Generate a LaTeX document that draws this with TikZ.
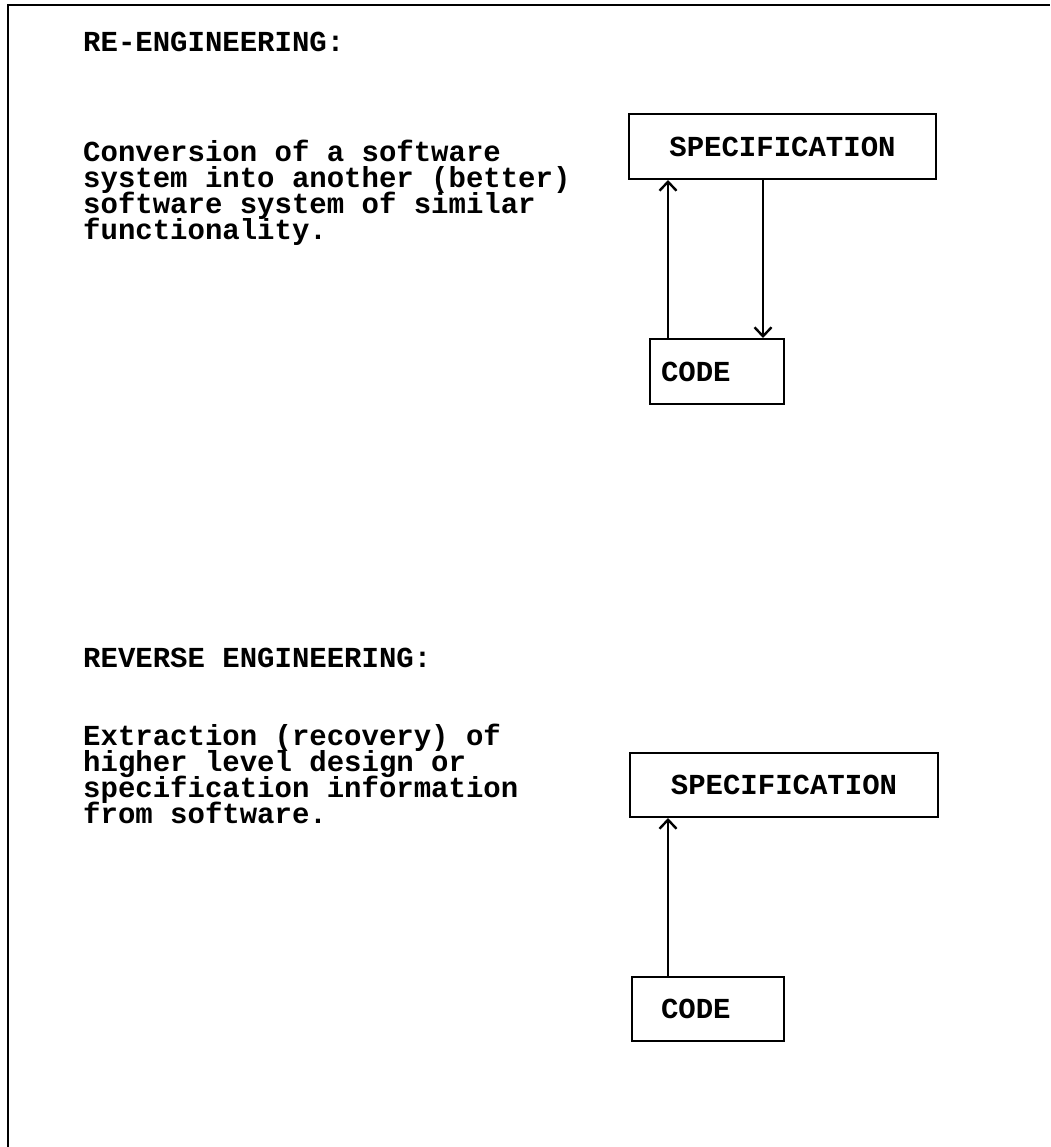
\documentclass[tikz,border=0pt]{standalone}
\usepackage{fontspec}
\setmainfont{Liberation Mono}
\usetikzlibrary{arrows.meta}
\newcommand\mytightlines{\lineskiplimit=-100pt\relax\lineskip=0pt\relax}
\tikzset{
  txt/.style={anchor=base west, inner sep=0pt, align=left, font=\bfseries\fontsize{29}{26}\selectfont\mytightlines},
  box/.style={draw, line width=2pt, inner ysep=0pt, font=\bfseries\fontsize{29}{29}\selectfont},
  arr/.style={line width=2pt, -{Straight Barb[length=9pt,width=17pt,line width=2.4pt]}},
  frame/.style={line width=2.6pt}
}
\begin{document}
\begin{tikzpicture}[x=1pt,y=-1pt]
\useasboundingbox (0,0) rectangle (1050,1147);
% frame
\coordinate (fbl) at (8,1147);
\coordinate (ftl) at (8,5);
\coordinate (ftr) at (1050,5);
\draw[frame] (fbl) -- (ftl) -- (ftr);

% section 1
\node[txt] (h1) at (83,52) {RE-ENGINEERING:};
\node[txt] (p1) at (83,240) {Conversion of a software\\system into another (better)\\software system of similar\\functionality.};

\node[box, minimum width=307pt, minimum height=65pt] (s1) at (782.5,146.5) {SPECIFICATION};
\node[box, anchor=north west, text width=112pt, inner xsep=11pt, minimum height=65pt, align=left] (c1) at (649,338) {CODE};
\coordinate (x1) at (668,0);
\coordinate (x2) at (763,0);
\draw[arr] (c1.north -| x1) -- (s1.south -| x1);
\draw[arr] (s1.south -| x2) -- (c1.north -| x2);

% section 2
\node[txt] (h2) at (83,667) {REVERSE ENGINEERING:};
\node[txt] (p2) at (83,823) {Extraction (recovery) of\\higher level design or\\specification information\\from software.};

\node[box, minimum width=308pt, minimum height=64pt] (s2) at (784,785) {SPECIFICATION};
\node[box, anchor=north west, text width=94pt, inner xsep=29pt, minimum height=64pt, align=left] (c2) at (631,976) {CODE};
\coordinate (x3) at (668,0);
\draw[arr] (c2.north -| x3) -- (s2.south -| x3);
\end{tikzpicture}
\end{document}
